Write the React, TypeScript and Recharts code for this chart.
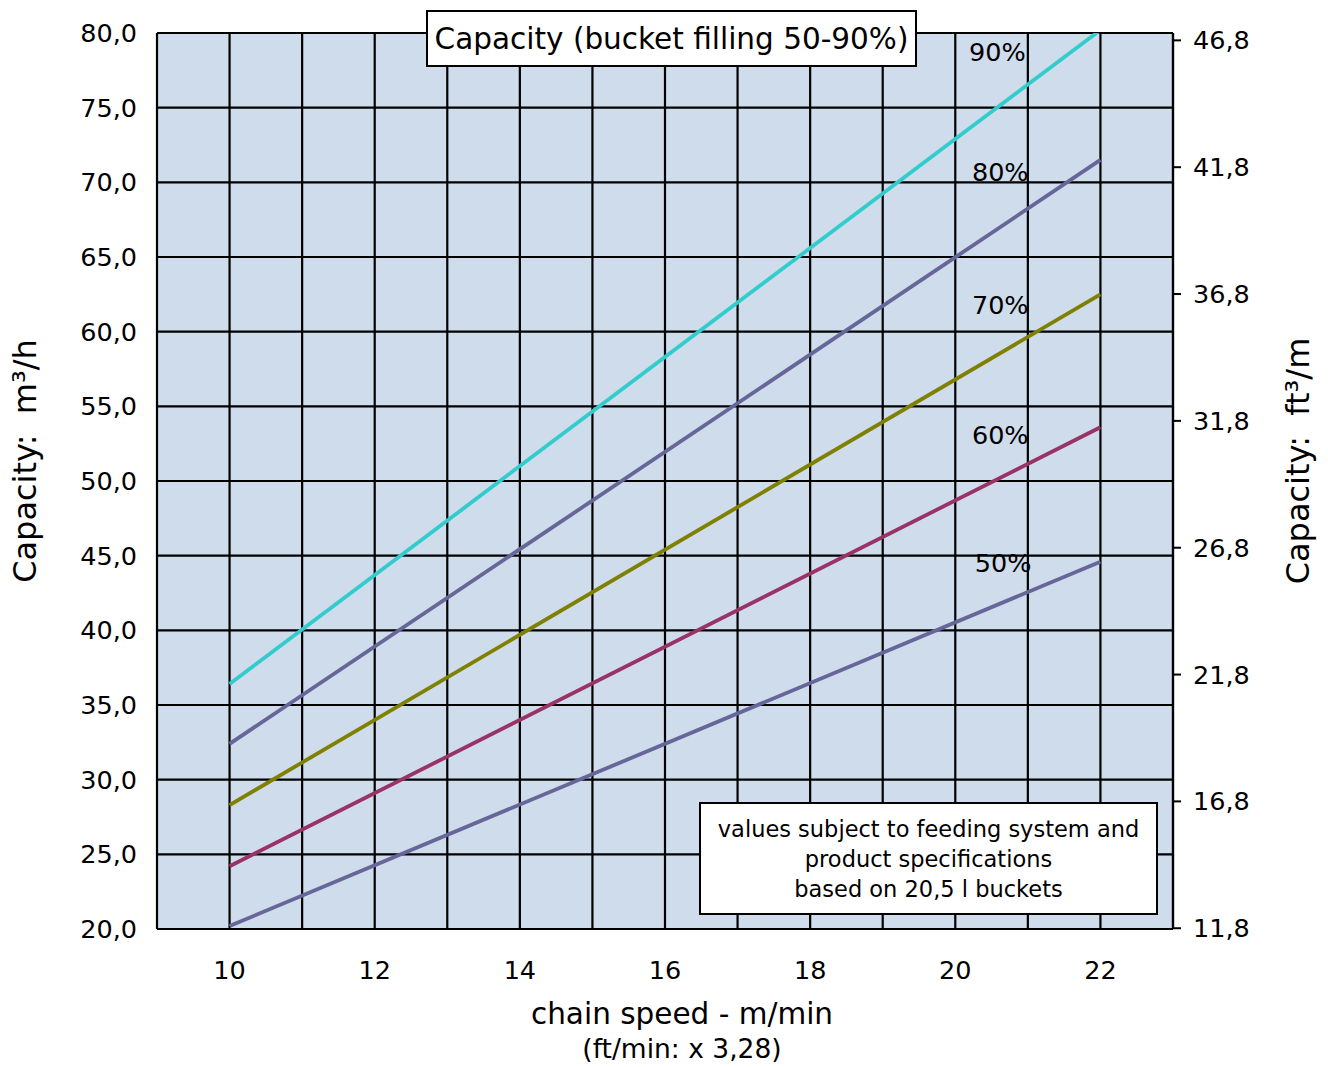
import { LineChart, Line, XAxis, YAxis, CartesianGrid, ReferenceDot } from "recharts";

// chain speed in m/min (lines are straight, so the two end points are enough)
const speeds = [10, 22];

// capacity in m³/h per bucket filling
const fill90 = [36.4, 80.2];
const fill80 = [32.4, 71.5];
const fill70 = [28.3, 62.5];
const fill60 = [24.2, 53.6];
const fill50 = [20.2, 44.6];

const xTicks = [9, 10, 11, 12, 13, 14, 15, 16, 17, 18, 19, 20, 21, 22, 23];
const leftTicks = [20, 25, 30, 35, 40, 45, 50, 55, 60, 65, 70, 75, 80];
const rightTicks = [11.8, 16.8, 21.8, 26.8, 31.8, 36.8, 41.8, 46.8];

const seriesKeys = ["p90", "p80", "p70", "p60", "p50"];
const seriesColors: Record<string, string> = {
  p90: "#33CCCC",
  p80: "#666699",
  p70: "#808000",
  p60: "#993366",
  p50: "#666699",
};

// the "90%" ... "50%" captions next to the lines
const lineLabels = ["90%", "80%", "70%", "60%", "50%"];
const lineLabelX = [20.58, 20.62, 20.62, 20.62, 20.66];
const lineLabelY = [78.7, 70.7, 61.8, 53.1, 44.5];

const noteLines = [
  "values subject to feeding system and",
  "product specifications",
  "based on 20,5 l buckets",
];

const FONT = "'DejaVu Sans', Verdana, sans-serif";

const data = speeds.map((s, i) => ({
  speed: s,
  p90: fill90[i],
  p80: fill80[i],
  p70: fill70[i],
  p60: fill60[i],
  p50: fill50[i],
}));

const comma = (v: number) => v.toFixed(1).replace(".", ",");

function LeftTitle(props: any) {
  const vb = props.viewBox || {};
  const x = vb.x + 25;
  const y = vb.y + vb.height / 2 - 20;
  return (
    <text
      x={x}
      y={y}
      transform={`rotate(-90, ${x}, ${y})`}
      textAnchor="middle"
      dominantBaseline="central"
      fontSize={32}
      fontFamily={FONT}
      fill="#000"
    >
      {"Capacity:\u00A0 m³/h"}
    </text>
  );
}

function RightTitle(props: any) {
  const vb = props.viewBox || {};
  const x = vb.x + 125;
  const y = vb.y + vb.height / 2 - 20;
  return (
    <text
      x={x}
      y={y}
      transform={`rotate(-90, ${x}, ${y})`}
      textAnchor="middle"
      dominantBaseline="central"
      fontSize={32}
      fontFamily={FONT}
      fill="#000"
    >
      {"Capacity:\u00A0 ft³/m"}
    </text>
  );
}

function BottomTitle(props: any) {
  const vb = props.viewBox || {};
  const cx = vb.x + vb.width / 2 + 17;
  return (
    <g fontFamily={FONT} fill="#000">
      <text x={cx} y={vb.y + 95} textAnchor="middle" fontSize={29.5}>
        chain speed - m/min
      </text>
      <text x={cx} y={vb.y + 129} textAnchor="middle" fontSize={26.5}>
        (ft/min: x 3,28)
      </text>
    </g>
  );
}

export default function App() {
  return (
    <div
      style={{
        position: "absolute",
        left: 0,
        top: 0,
        width: 1328,
        height: 1067,
        background: "#fff",
        fontFamily: FONT,
      }}
    >
      <LineChart
        width={1328}
        height={1067}
        data={data}
        margin={{ top: 33, right: 0, bottom: 0, left: 0 }}
      >
        <CartesianGrid
          stroke="#000"
          strokeWidth={2.2}
          fill="#CFDCEB"
          fillOpacity={1}
          yAxisId="left"
        />
        <XAxis
          dataKey="speed"
          type="number"
          domain={[9, 23]}
          ticks={xTicks}
          interval={0}
          height={138}
          axisLine={false}
          tickLine={false}
          tickSize={0}
          tickMargin={32}
          tickFormatter={(v: number) => (v % 2 === 0 && v >= 10 && v <= 22 ? String(v) : "")}
          tick={{ fontSize: 25.5, fill: "#000", fontFamily: FONT }}
          label={(p: any) => <BottomTitle {...p} />}
        />
        <YAxis
          yAxisId="left"
          type="number"
          domain={[20, 80]}
          allowDataOverflow
          ticks={leftTicks}
          interval={0}
          width={157}
          axisLine={false}
          tickLine={false}
          tickSize={0}
          tickMargin={20}
          tickFormatter={comma}
          tick={{ fontSize: 25.5, fill: "#000", fontFamily: FONT }}
          label={(p: any) => <LeftTitle {...p} />}
        />
        <YAxis
          yAxisId="right"
          orientation="right"
          type="number"
          domain={[11.77, 47.09]}
          allowDataOverflow
          ticks={rightTicks}
          interval={0}
          width={155}
          axisLine={{ stroke: "#000", strokeWidth: 2.2 }}
          tickLine={{ stroke: "#000", strokeWidth: 2 }}
          tickSize={8}
          tickMargin={12}
          tickFormatter={comma}
          tick={{ fontSize: 25.5, fill: "#000", fontFamily: FONT }}
          label={(p: any) => <RightTitle {...p} />}
        />
        {seriesKeys.map((k) => (
          <Line
            key={k}
            yAxisId="left"
            type="linear"
            dataKey={k}
            stroke={seriesColors[k]}
            strokeWidth={3.8}
            dot={false}
            activeDot={false}
            isAnimationActive={false}
          />
        ))}
        {lineLabels.map((t, i) => (
          <ReferenceDot
            key={t}
            yAxisId="left"
            x={lineLabelX[i]}
            y={lineLabelY[i]}
            r={0}
            fill="none"
            stroke="none"
            label={{
              value: t,
              position: "center",
              fontSize: 25.5,
              fill: "#000",
              fontFamily: FONT,
            }}
          />
        ))}
      </LineChart>

      <div
        style={{
          position: "absolute",
          left: 426,
          top: 10,
          width: 491,
          height: 57,
          boxSizing: "border-box",
          border: "2px solid #000",
          background: "#fff",
          display: "flex",
          alignItems: "center",
          justifyContent: "center",
          fontSize: 29.5,
          whiteSpace: "nowrap",
        }}
      >
        Capacity (bucket filling 50-90%)
      </div>

      <div
        style={{
          position: "absolute",
          left: 699,
          top: 802,
          width: 459,
          height: 113,
          boxSizing: "border-box",
          border: "2px solid #000",
          background: "#fff",
          display: "flex",
          flexDirection: "column",
          alignItems: "center",
          justifyContent: "center",
          fontSize: 22.5,
          lineHeight: "30px",
          whiteSpace: "nowrap",
        }}
      >
        {noteLines.map((l) => (
          <div key={l}>{l}</div>
        ))}
      </div>
    </div>
  );
}
